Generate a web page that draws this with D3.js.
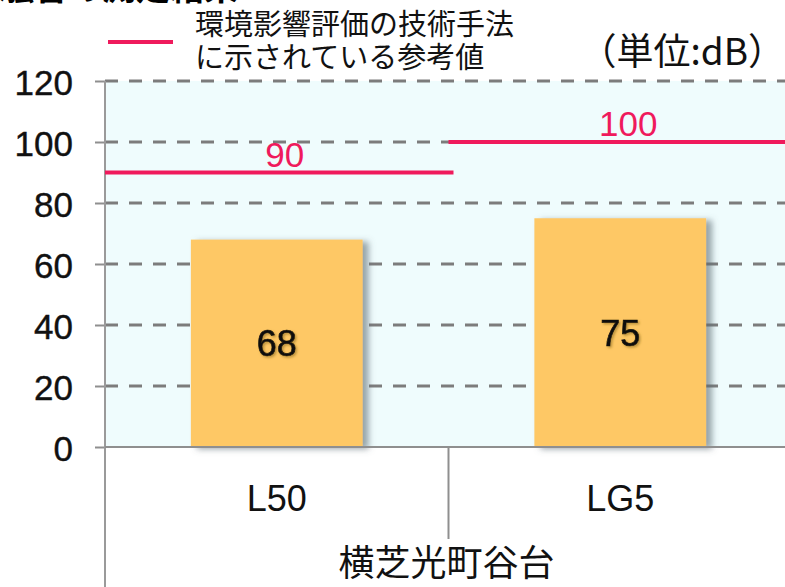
<!DOCTYPE html>
<html lang="ja">
<head>
<meta charset="utf-8">
<script src="https://cdn.jsdelivr.net/npm/d3@7"></script>
<style>
  html, body { margin: 0; padding: 0; background: #fff; }
  svg { display: block; }
  .lat { font-family: "Liberation Sans", Arial, sans-serif; }
  .jp  { font-family: "Noto Sans CJK JP", "Noto Sans", sans-serif; }
</style>
</head>
<body>
<script>
// Measured noise levels (dB) per index at the survey site
const categories = ["L50", "LG5"];
const measured = [68, 75];
// Reference values from the environmental assessment technical guidance
const referenceValues = [90, 100];
const yTicks = [0, 20, 40, 60, 80, 100, 120];
const groupLabel = "横芝光町谷台";
const legendLines = ["環境影響評価の技術手法", "に示されている参考値"];
const unitLabel = "（単位:dB）";
const titleText = "騒音の測定結果";

const W = 785, H = 587;
const plot = { left: 105, right: 792, top: 81, bottom: 447 };

const svg = d3.select("body").append("svg")
  .attr("width", W).attr("height", H);

const defs = svg.append("defs");
const barShadow = defs.append("filter").attr("id", "barShadow")
  .attr("x", "-10%").attr("y", "-10%").attr("width", "130%").attr("height", "120%");
barShadow.append("feDropShadow")
  .attr("dx", 6).attr("dy", 2).attr("stdDeviation", 3)
  .attr("flood-color", "#5a6a70").attr("flood-opacity", 0.6);
const textShadow = defs.append("filter").attr("id", "textShadow")
  .attr("x", "-20%").attr("y", "-20%").attr("width", "150%").attr("height", "150%");
textShadow.append("feDropShadow")
  .attr("dx", 1.5).attr("dy", 1.5).attr("stdDeviation", 1)
  .attr("flood-color", "#8a6a20").attr("flood-opacity", 0.6);

const x = d3.scaleBand()
  .domain(categories)
  .range([plot.left, plot.right])
  .paddingInner(0.5)
  .paddingOuter(0.25);

const y = d3.scaleLinear()
  .domain([0, 120])
  .range([plot.bottom, plot.top]);

// Title (runs off the top edge)
svg.append("text").attr("class", "jp")
  .attr("x", 0).attr("y", 0)
  .attr("font-size", 34).attr("font-weight", 700)
  .attr("fill", "#000")
  .text(titleText);

// Plot background
svg.append("rect")
  .attr("x", plot.left).attr("y", plot.top)
  .attr("width", plot.right - plot.left).attr("height", plot.bottom - plot.top)
  .attr("fill", "#effcfd");

// Dashed gridlines
svg.append("g")
  .selectAll("line")
  .data(yTicks.filter(d => d > 0))
  .join("line")
  .attr("x1", plot.left).attr("x2", plot.right)
  .attr("y1", d => y(d)).attr("y2", d => y(d))
  .attr("stroke", "#7c7c7c").attr("stroke-width", 3)
  .attr("stroke-dasharray", "13,11");

// Y axis
const yAxis = svg.append("g")
  .attr("transform", `translate(${plot.left},0)`)
  .call(d3.axisLeft(y).tickValues(yTicks).tickSize(10).tickPadding(22).tickSizeOuter(0));
yAxis.select(".domain").remove();
yAxis.selectAll(".tick line").attr("stroke", "#8f8f8f").attr("stroke-width", 2);
yAxis.selectAll(".tick text")
  .attr("class", "lat")
  .attr("font-size", 35).attr("fill", "#111")
  .attr("stroke", "#111").attr("stroke-width", 0.4)
  .attr("dy", "0.38em");

// Vertical axis line running down through the category area
svg.append("line")
  .attr("x1", plot.left).attr("x2", plot.left)
  .attr("y1", plot.top).attr("y2", H)
  .attr("stroke", "#9a9a9a").attr("stroke-width", 2);

// Bars
svg.append("g")
  .selectAll("rect")
  .data(categories)
  .join("rect")
  .attr("x", d => x(d))
  .attr("y", (d, i) => y(measured[i]))
  .attr("width", x.bandwidth())
  .attr("height", (d, i) => y(0) - y(measured[i]))
  .attr("fill", "#fec865")
  .attr("filter", "url(#barShadow)");

// Baseline
svg.append("line")
  .attr("x1", plot.left).attr("x2", plot.right)
  .attr("y1", y(0)).attr("y2", y(0))
  .attr("stroke", "#8f8f8f").attr("stroke-width", 2);

// Value labels centred in each bar
svg.append("g")
  .selectAll("text")
  .data(categories)
  .join("text")
  .attr("class", "lat")
  .attr("x", d => x(d) + x.bandwidth() / 2)
  .attr("y", (d, i) => (y(measured[i]) + y(0)) / 2)
  .attr("dy", "0.36em")
  .attr("text-anchor", "middle")
  .attr("font-size", 36)
  .attr("fill", "#111")
  .attr("stroke", "#111").attr("stroke-width", 0.7)
  .attr("filter", "url(#textShadow)")
  .text((d, i) => measured[i]);

// Reference value lines spanning each category slot
const step = x.step();
const refColor = "#ef1a5c";
svg.append("g")
  .selectAll("line")
  .data(categories)
  .join("line")
  .attr("x1", d => x(d) + x.bandwidth() / 2 - step / 2)
  .attr("x2", d => x(d) + x.bandwidth() / 2 + step / 2 + 5)
  .attr("y1", (d, i) => y(referenceValues[i]))
  .attr("y2", (d, i) => y(referenceValues[i]))
  .attr("stroke", refColor).attr("stroke-width", 4);

svg.append("g")
  .selectAll("text")
  .data(categories)
  .join("text")
  .attr("class", "lat")
  .attr("x", d => x(d) + x.bandwidth() / 2 + 8)
  .attr("y", (d, i) => y(referenceValues[i]) - 6)
  .attr("text-anchor", "middle")
  .attr("font-size", 35)
  .attr("fill", refColor)
  .text((d, i) => referenceValues[i]);

// Category labels and separators
svg.append("g")
  .selectAll("text")
  .data(categories)
  .join("text")
  .attr("class", "lat")
  .attr("x", d => x(d) + x.bandwidth() / 2)
  .attr("y", 511)
  .attr("text-anchor", "middle")
  .attr("font-size", 36)
  .attr("fill", "#111")
  .text(d => d);

svg.append("g")
  .selectAll("line")
  .data(categories.slice(1))
  .join("line")
  .attr("x1", d => x(d) + x.bandwidth() / 2 - step / 2)
  .attr("x2", d => x(d) + x.bandwidth() / 2 - step / 2)
  .attr("y1", y(0)).attr("y2", 539)
  .attr("stroke", "#8f8f8f").attr("stroke-width", 2);

// Group label
svg.append("text").attr("class", "jp")
  .attr("x", (plot.left + plot.right) / 2 - 2)
  .attr("y", 576)
  .attr("text-anchor", "middle")
  .attr("font-size", 36)
  .attr("fill", "#111")
  .text(groupLabel);

// Legend
svg.append("line")
  .attr("x1", 108).attr("x2", 173)
  .attr("y1", 42).attr("y2", 42)
  .attr("stroke", refColor).attr("stroke-width", 4);
svg.append("text")
  .attr("class", "jp")
  .attr("font-size", 29)
  .attr("fill", "#111")
  .selectAll("tspan")
  .data(legendLines)
  .join("tspan")
  .attr("x", 195)
  .attr("y", (d, i) => 35 + i * 33)
  .text(d => d);

// Unit note
svg.append("text").attr("class", "jp")
  .attr("x", 785).attr("y", 65)
  .attr("text-anchor", "end")
  .attr("font-size", 37)
  .attr("fill", "#111")
  .text(unitLabel);
</script>
</body>
</html>
